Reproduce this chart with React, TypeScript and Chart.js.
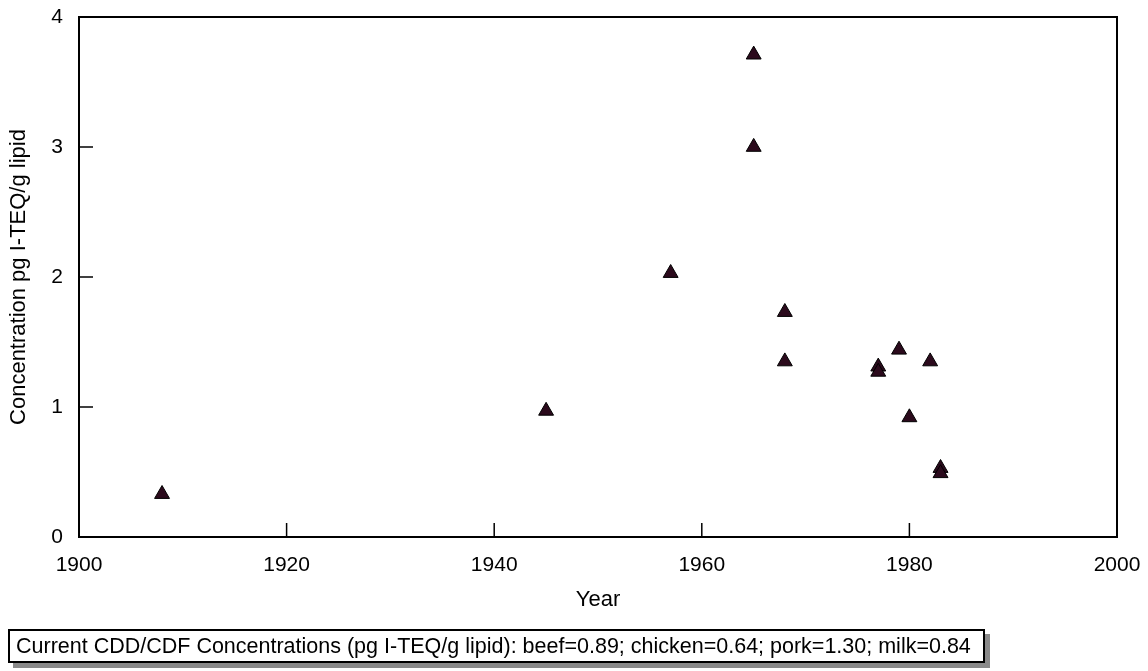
import React, { useEffect, useRef } from "react";
import { Chart, registerables } from "chart.js";

Chart.register(...registerables);

const years = [1908, 1945, 1957, 1965, 1965, 1968, 1968, 1977, 1977, 1979, 1980, 1982, 1983, 1983];
const concentrations = [0.33, 0.97, 2.03, 3.71, 3.0, 1.73, 1.35, 1.31, 1.27, 1.44, 0.92, 1.35, 0.53, 0.49];
const xTicks = [1900, 1920, 1940, 1960, 1980, 2000];
const yTicks = [0, 1, 2, 3, 4];
const xTitle = "Year";
const yTitle = "Concentration pg I-TEQ/g lipid";
const footerText =
  "Current CDD/CDF Concentrations (pg I-TEQ/g lipid): beef=0.89; chicken=0.64; pork=1.30; milk=0.84";

const FONT = "'Liberation Sans', Arial, sans-serif";

const frameAndTicks = {
  id: "frameAndTicks",
  afterDatasetsDraw(chart: any) {
    const { ctx, chartArea, scales } = chart;
    const { left, right, top, bottom } = chartArea;
    ctx.save();
    ctx.strokeStyle = "#000";
    ctx.lineWidth = 2;
    ctx.strokeRect(left, top, right - left, bottom - top);
    ctx.lineWidth = 1.5;
    const len = 14;
    xTicks.forEach((v) => {
      const px = scales.x.getPixelForValue(v);
      ctx.beginPath();
      ctx.moveTo(px, bottom);
      ctx.lineTo(px, bottom - len);
      ctx.stroke();
    });
    yTicks.forEach((v) => {
      const py = scales.y.getPixelForValue(v);
      ctx.beginPath();
      ctx.moveTo(left, py);
      ctx.lineTo(left + len, py);
      ctx.stroke();
    });
    ctx.restore();
  },
};

export default function App() {
  const ref = useRef<HTMLCanvasElement>(null);
  useEffect(() => {
    document.body.style.margin = "0";
    const chart = new Chart(ref.current as HTMLCanvasElement, {
      type: "scatter",
      data: {
        datasets: [
          {
            data: years.map((y, i) => ({ x: y, y: concentrations[i] })),
            pointStyle: "triangle",
            pointRadius: 8.6,
            pointBackgroundColor: "#2b0a1c",
            pointBorderColor: "#000",
            pointBorderWidth: 1,
          },
        ],
      },
      options: {
        responsive: false,
        animation: false,
        layout: { padding: { left: 0, top: 17, right: 31, bottom: 54 } },
        plugins: { legend: { display: false }, tooltip: { enabled: false } },
        scales: {
          x: {
            type: "linear",
            min: 1900,
            max: 2000,
            afterBuildTicks: (s: any) => {
              s.ticks = xTicks.map((v) => ({ value: v }));
            },
            afterFit: (s: any) => {
              s.height = 80;
              s.paddingLeft = 0;
              s.paddingRight = 0;
              s.paddingTop = 0;
              s.paddingBottom = 0;
            },
            grid: { display: false, drawTicks: false },
            border: { display: false },
            ticks: {
              color: "#000",
              padding: 16,
              font: { family: FONT, size: 21 },
              maxRotation: 0,
              callback: (v: any) => String(v),
            },
            title: { display: true, text: xTitle, color: "#000", font: { family: FONT, size: 22 }, padding: { bottom: 4 } },
          },
          y: {
            type: "linear",
            min: 0,
            max: 4,
            afterBuildTicks: (s: any) => {
              s.ticks = yTicks.map((v) => ({ value: v }));
            },
            afterFit: (s: any) => {
              s.width = 79;
              s.paddingLeft = 0;
              s.paddingRight = 0;
              s.paddingTop = 0;
              s.paddingBottom = 0;
            },
            grid: { display: false, drawTicks: false },
            border: { display: false },
            ticks: { color: "#000", padding: 16, font: { family: FONT, size: 21 }, callback: (v: any) => String(v) },
            title: { display: true, text: yTitle, color: "#000", font: { family: FONT, size: 22 }, padding: { top: 6 } },
          },
        },
      },
      plugins: [frameAndTicks],
    });
    return () => chart.destroy();
  }, []);
  return (
    <div style={{ position: "relative", width: 1148, height: 671 }}>
      <canvas ref={ref} width={1148} height={671} style={{ display: "block" }} />
      <div
        style={{
          position: "absolute",
          left: 8,
          top: 629,
          width: 967,
          height: 30,
          border: "2px solid #000",
          boxShadow: "5px 5px 0 #8a8a8a",
          background: "#fff",
          fontFamily: FONT,
          fontSize: 21.5,
          lineHeight: "30px",
          paddingLeft: 6,
          boxSizing: "content-box",
          whiteSpace: "nowrap",
          color: "#000",
        }}
      >
        {footerText}
      </div>
    </div>
  );
}
